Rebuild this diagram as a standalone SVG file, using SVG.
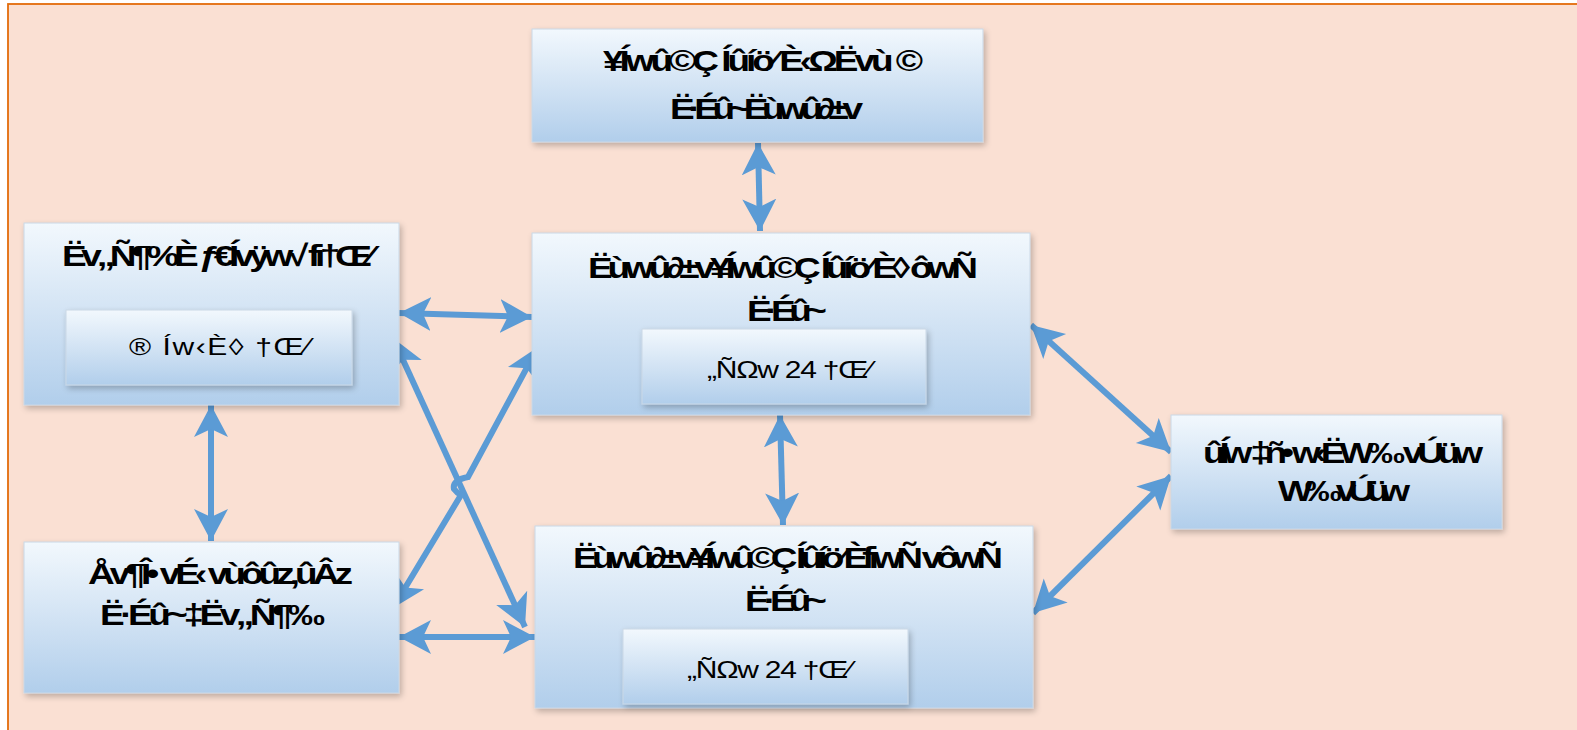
<svg xmlns="http://www.w3.org/2000/svg" width="1577" height="730" viewBox="0 0 1577 730">
<defs>
<linearGradient id="g" x1="0" y1="0" x2="0" y2="1">
<stop offset="0" stop-color="#F2F8FD"/>
<stop offset="0.55" stop-color="#CFE1F3"/>
<stop offset="1" stop-color="#B1CEEB"/>
</linearGradient>
<filter id="sh" x="-10%" y="-10%" width="125%" height="130%">
<feGaussianBlur in="SourceAlpha" stdDeviation="3"/>
<feOffset dx="2" dy="3"/>
<feComponentTransfer><feFuncA type="linear" slope="0.25"/></feComponentTransfer>
<feMerge><feMergeNode/><feMergeNode in="SourceGraphic"/></feMerge>
</filter>
<marker id="ah" markerUnits="userSpaceOnUse" markerWidth="34" markerHeight="40" viewBox="0 0 34 40" refX="32" refY="20" orient="auto-start-reverse">
<path d="M0,3 L32,20 L0,37 L8,20 Z" fill="#5B9BD5"/>
</marker>
</defs>
<style>
.box{fill:url(#g);stroke:#CAD8E6;stroke-width:1;filter:url(#sh)}
.t{font-family:"Liberation Sans",Arial,sans-serif;font-weight:bold;font-size:37px;fill:#000}
.s{font-family:"Liberation Sans",Arial,sans-serif;font-size:30px;fill:#000}
.c{fill:none;stroke:#5B9BD5;stroke-width:6;marker-start:url(#ah);marker-end:url(#ah)}
</style>
<rect x="8" y="4" width="1580" height="740" fill="#FAE0D3" stroke="#E36C0A" stroke-width="1.8"/>

<g id="connectors">
<line class="c" x1="758" y1="143" x2="760" y2="231"/>
<line class="c" x1="399" y1="313" x2="532" y2="317"/>
<line class="c" x1="211" y1="405" x2="211" y2="541"/>
<line class="c" x1="780" y1="415" x2="783" y2="525"/>
<line class="c" x1="1031" y1="325" x2="1171" y2="452"/>
<line class="c" x1="1171" y1="476" x2="1033" y2="613"/>
<line class="c" x1="399" y1="637" x2="535" y2="637"/>
<line class="c" x1="393" y1="338" x2="525" y2="627"/>
<path class="c" d="M538,347 L468,477 Q452,480 454,489 Q457,493 461,495 L393,608"/>
</g>

<g id="n1">
<rect class="box" x="532" y="29" width="451" height="113"/>
<text class="t" transform="translate(603,71) scale(1,0.8)" textLength="320" lengthAdjust="spacing">¥Íwû©Ç Íûíö⁄ È‹ΩËvù ©</text>
<text class="t" transform="translate(670,119) scale(1,0.8)" textLength="193" lengthAdjust="spacing">Ë·Éû~Ëùwû∂±v</text>
</g>

<g id="n2">
<rect class="box" x="24" y="223" width="375" height="182"/>
<text class="t" transform="translate(62,266) scale(1,0.8)" textLength="311" lengthAdjust="spacing">Ëv„Ñ¶%È ƒ€Ívÿw√ fi†Œ⁄</text>
<rect class="box" x="66" y="310" width="286" height="75"/>
<text class="s" transform="translate(129,355) scale(1,0.78)" textLength="181" lengthAdjust="spacing">® Íw‹È◊ †Œ⁄</text>
</g>

<g id="n3">
<rect class="box" x="532" y="233" width="498" height="182"/>
<text class="t" transform="translate(588,278) scale(1,0.8)" textLength="390" lengthAdjust="spacing">Ëùwû∂±v¥Íwû©Ç Íûíö⁄ È◊ ôwÑ</text>
<text class="t" transform="translate(747,321) scale(1,0.8)" textLength="80" lengthAdjust="spacing">Ë·Éû~</text>
<rect class="box" x="642" y="329" width="284" height="75"/>
<text class="s" transform="translate(707,378) scale(1,0.78)" textLength="165" lengthAdjust="spacing">„ÑΩw 24 †Œ⁄</text>
</g>

<g id="n4">
<rect class="box" x="1171" y="415" width="331" height="114"/>
<text class="t" transform="translate(1203,463) scale(1,0.8)" textLength="280" lengthAdjust="spacing">ûÍw ‡ñ• w‹ËW‰ vÚüw</text>
<text class="t" transform="translate(1278,501) scale(1,0.8)" textLength="132" lengthAdjust="spacing">W‰ vÚüw</text>
</g>

<g id="n5">
<rect class="box" x="24" y="542" width="375" height="151"/>
<text class="t" transform="translate(88,584) scale(1,0.8)" textLength="265" lengthAdjust="spacing">Åv¶Î• vÉ‹ vùôûz‚ûÂz</text>
<text class="t" transform="translate(100,625) scale(1,0.8)" textLength="225" lengthAdjust="spacing">Ë·Éû~‡Ëv„Ñ¶‰</text>
</g>

<g id="n6">
<rect class="box" x="535" y="526" width="498" height="182"/>
<text class="t" transform="translate(573,568) scale(1,0.8)" textLength="430" lengthAdjust="spacing">Ëùwû∂±v¥Íwû©Ç Íûíö⁄ ÈfiwÑ vôwÑ</text>
<text class="t" transform="translate(745,611) scale(1,0.8)" textLength="82" lengthAdjust="spacing">Ë·Éû~</text>
<rect class="box" x="623" y="629" width="285" height="75"/>
<text class="s" transform="translate(687,678) scale(1,0.78)" textLength="165" lengthAdjust="spacing">„ÑΩw 24 †Œ⁄</text>
</g>
</svg>
